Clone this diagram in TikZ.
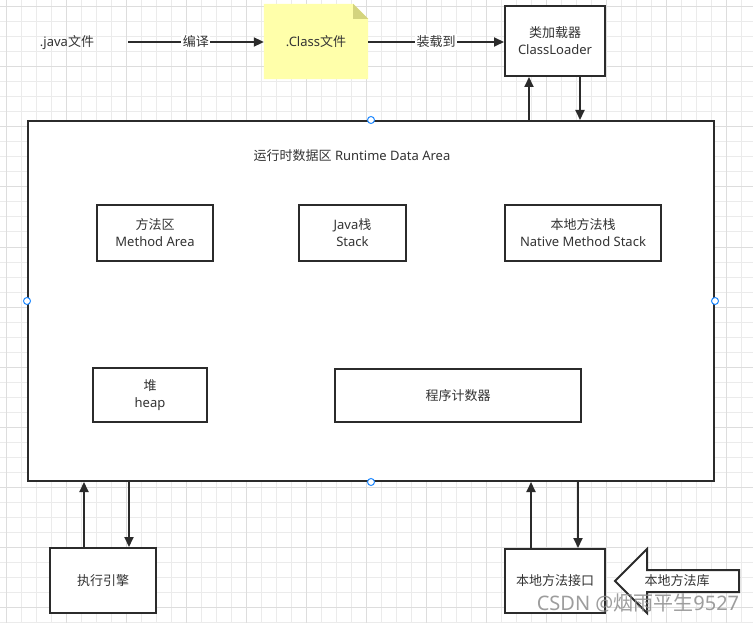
\documentclass[tikz,border=0pt]{standalone}
\usepackage{fontspec}
\setmainfont{Noto Sans}
\newfontfamily\cjk{Noto Sans CJK SC}
\usetikzlibrary{arrows.meta}
\definecolor{txt}{HTML}{333333}
\definecolor{edge}{HTML}{2B2B2B}
\definecolor{gridminor}{HTML}{EBEBEB}
\definecolor{gridmajor}{HTML}{DDDDDD}
\definecolor{notefill}{HTML}{FFFFAA}
\definecolor{notefold}{HTML}{D4D47E}
\definecolor{handle}{HTML}{1E88FF}
\tikzset{
  box/.style={draw=edge, line width=2pt, fill=white, inner sep=0pt, text=txt,
    align=center, font=\fontsize{13}{17}\selectfont},
  plain/.style={inner sep=0pt, text=txt, align=center, font=\fontsize{13}{17}\selectfont},
  lab/.style={plain, fill=white, inner sep=1.5pt},
  arr/.style={draw=edge, line width=2pt, -{Triangle[length=10pt,width=9pt]}},
  hdl/.style={draw=handle, line width=1pt, fill=white, circle, minimum size=7pt, inner sep=0pt},
}
\begin{document}
\begin{tikzpicture}[x=1pt,y=-1pt]
\useasboundingbox (0,0) rectangle (753,623);
\fill[white] (0,0) rectangle (753,623);
% grid
\foreach \i in {0,...,49} {
  \pgfmathsetmacro{\gx}{6+15*\i}
  \draw[gridminor, line width=1pt] (\gx,0) -- (\gx,623);
}
\foreach \i in {0,...,41} {
  \pgfmathsetmacro{\gy}{7+15*\i}
  \draw[gridminor, line width=1pt] (0,\gy) -- (753,\gy);
}
\foreach \i in {0,...,12} {
  \pgfmathsetmacro{\gx}{6+60*\i}
  \draw[gridmajor, line width=1pt] (\gx,0) -- (\gx,623);
}
\foreach \i in {0,...,10} {
  \pgfmathsetmacro{\gy}{7+60*\i}
  \draw[gridmajor, line width=1pt] (0,\gy) -- (753,\gy);
}

% top row
\node[plain] (java) at (67,43) {.java{\cjk 文件}};
\coordinate (javaR) at (128,42);
\node[inner sep=0pt, minimum width=104pt, minimum height=75pt] (cls) at (316,41.5) {};
\fill[notefill] (cls.north west) -- ([xshift=-15pt]cls.north east) -- ([yshift=-15pt]cls.north east) -- (cls.south east) -- (cls.south west) -- cycle;
\fill[notefold] ([xshift=-15pt]cls.north east) -- ([xshift=-15pt,yshift=-15pt]cls.north east) -- ([yshift=-15pt]cls.north east) -- cycle;
\node[plain] (clst) at (cls.center) {.Class{\cjk 文件}};
\node[box, minimum width=100pt, minimum height=70pt] (cl) at (555,41) {{\cjk 类加载器}\\ClassLoader};

\draw[arr] (javaR) -- (cls.west |- javaR) node[lab, midway] {\cjk 编译};
\draw[arr] (cls.east |- javaR) -- (cl.west |- javaR) node[lab, midway] {\cjk 装载到};

% runtime data area
\node[box, minimum width=686pt, minimum height=360pt] (rt) at (371,301) {};
\node[plain] (title) at (352,156) {{\cjk 运行时数据区} Runtime Data Area};
\node[box, minimum width=116pt, minimum height=56pt] (ma) at (155,233) {{\cjk 方法区}\\Method Area};
\node[box, minimum width=107pt, minimum height=56pt] (js) at (352.5,233) {Java{\cjk 栈}\\Stack};
\node[box, minimum width=156pt, minimum height=56pt] (ns) at (583,233) {{\cjk 本地方法栈}\\Native Method Stack};
\node[box, minimum width=114pt, minimum height=54pt] (hp) at (150,395) {{\cjk 堆}\\heap};
\node[box, minimum width=246pt, minimum height=53pt] (pc) at (458,395.5) {\cjk 程序计数器};

\node[hdl] (h1) at (rt.north) {};
\node[hdl] (h2) at (rt.south) {};
\node[hdl] (h3) at (rt.west) {};
\node[hdl] (h4) at (rt.east) {};

% class loader <-> runtime
\coordinate (c1) at (529,0);
\coordinate (c2) at (580,0);
\draw[arr] (rt.north -| c1) -- (cl.south -| c1);
\draw[arr] (cl.south -| c2) -- (rt.north -| c2);

% execution engine
\node[box, minimum width=106pt, minimum height=65pt] (ee) at (103,580.5) {\cjk 执行引擎};
\coordinate (e1) at (84,0);
\coordinate (e2) at (129,0);
\draw[arr] (ee.north -| e1) -- (rt.south -| e1);
\draw[arr] (rt.south -| e2) -- (ee.north -| e2);

% native interface
\node[box, minimum width=100pt, minimum height=64pt] (ni) at (555,581) {\cjk 本地方法接口};
\coordinate (n1) at (531,0);
\coordinate (n2) at (578,0);
\draw[arr] (ni.north -| n1) -- (rt.south -| n1);
\draw[arr] (rt.south -| n2) -- (ni.north -| n2);

% native library block arrow
\draw[edge, line width=2pt, fill=white, line join=miter]
  (615,581) -- (647,549) -- (647,570) -- (739,570) -- (739,592) -- (647,592) -- (647,613) -- cycle;
\node[plain] (nl) at (677,581) {\cjk 本地方法库};

% watermark
\node[inner sep=0pt, text=black!45, opacity=0.85, font=\fontsize{20}{22}\selectfont] (wm) at (638,603) {CSDN @{\cjk 烟雨平生}9527};
\end{tikzpicture}
\end{document}
